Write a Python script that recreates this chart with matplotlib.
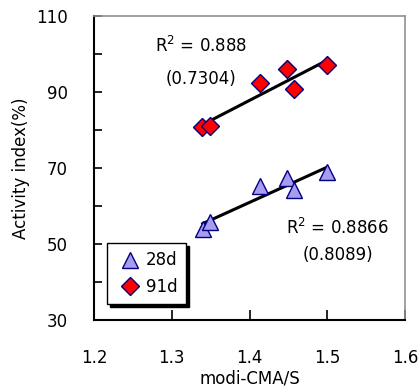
import numpy as np
import matplotlib
matplotlib.use("Agg")
import matplotlib.pyplot as plt

plt.rcParams['font.family'] = ['DejaVu Sans']

# data
x_28d = [1.3398, 1.349, 1.4135, 1.448, 1.4575, 1.4993]
y_28d = [53.9, 55.9, 65.3, 67.3, 64.2, 69.0]
x_91d = [1.3385, 1.349, 1.4135, 1.448, 1.4572, 1.4993]
y_91d = [80.7, 81.05, 92.3, 96.05, 90.7, 97.1]
series_labels = ['28d', '91d']
xticks = [1.2, 1.3, 1.4, 1.5, 1.6]
yticks = [30, 50, 70, 90, 110]
ann_91 = ['R$^2$ = 0.888', '(0.7304)']
ann_28 = ['R$^2$ = 0.8866', '(0.8089)']

FS = 12

fig = plt.figure(figsize=(4.19, 3.89), dpi=100)
ax = fig.add_axes([94/419, 1-320/389, (405-94)/419, (320-16)/389])
ax.set_xlim(1.2, 1.6)
ax.set_ylim(30, 110)

for xs, ys in [(x_28d, y_28d), (x_91d, y_91d)]:
    xs_a = np.array(xs); ys_a = np.array(ys)
    k, b = np.polyfit(xs_a, ys_a, 1)
    xl = np.array([xs_a.min(), xs_a.max()])
    ax.plot(xl, k*xl + b, color='black', lw=2.2, zorder=2)

ax.plot(x_28d, y_28d, linestyle='none', marker='^', ms=11, mfc='#A99BF0',
        mec='#000080', mew=1.0, zorder=3, label=series_labels[0])
ax.plot(x_91d, y_91d, linestyle='none', marker='D', ms=9.5, mfc='#FF0000',
        mec='#000080', mew=1.0, zorder=3, label=series_labels[1])

ax.set_xticks(xticks)
ax.set_xticklabels([f'{v:.1f}' for v in xticks])
ax.set_yticks(np.arange(30, 111, 10))
ax.set_yticklabels([str(v) if v in yticks else '' for v in range(30, 111, 10)])
ax.tick_params(axis='both', direction='in', labelsize=FS, width=1.2, color='black')
ax.tick_params(axis='x', length=7, pad=21)
ax.tick_params(axis='y', length=5.5, pad=19)

for s in ['left', 'bottom']:
    ax.spines[s].set_color('black'); ax.spines[s].set_linewidth(1.5)
for s in ['top', 'right']:
    ax.spines[s].set_color('#909090'); ax.spines[s].set_linewidth(1.2)

ax.set_xlabel('modi-CMA/S', fontsize=FS, labelpad=2)
ax.set_ylabel('Activity index(%)', fontsize=FS, labelpad=4)

ax.text(1.338, 102.1, ann_91[0], fontsize=FS, ha='center', va='center')
ax.text(1.338, 93.55, ann_91[1], fontsize=FS, ha='center', va='center')
ax.text(1.513, 54.1, ann_28[0], fontsize=FS, ha='center', va='center')
ax.text(1.514, 47.1, ann_28[1], fontsize=FS, ha='center', va='center')

leg = ax.legend(loc='lower left', bbox_to_anchor=(13/311, 16/304), fontsize=FS,
                frameon=True, fancybox=False, shadow={'color': 'black', 'alpha': 1},
                edgecolor='black', handlelength=1.7, handletextpad=0.15,
                borderpad=0.5, labelspacing=0.5, borderaxespad=0)
leg.get_frame().set_linewidth(1.0)

fig.savefig('out.png', dpi=100)
